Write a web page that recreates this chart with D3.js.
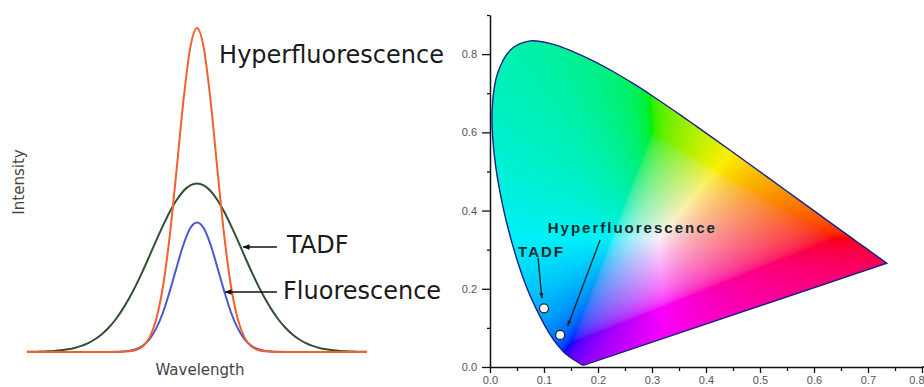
<!DOCTYPE html>
<html><head><meta charset="utf-8">
<script src="https://cdn.jsdelivr.net/npm/d3@7"></script>
<style>html,body{margin:0;padding:0;background:#fff;} svg{display:block;}</style>
</head><body>
<svg id="chart" width="924" height="387"></svg>
<script>
// ---------- Left panel: emission spectra (arbitrary units) ----------
const wavelength = [0,2,4,6,8,10,12,14,16,18,20,22,24,26,28,30,32,34,36,38,40,42,44,46,48,50,52,54,56,58,60,62,64,66,68,70,72,74,76,78,80,82,84,86,88,90,92,94,96,98,100];
const tadf = [0.0004,0.0007,0.0012,0.002,0.0033,0.0053,0.0083,0.0126,0.0189,0.0275,0.0393,0.0548,0.0747,0.0996,0.130,0.165,0.205,0.249,0.296,0.344,0.390,0.433,0.469,0.497,0.514,0.52,0.514,0.497,0.469,0.433,0.390,0.344,0.296,0.249,0.205,0.165,0.130,0.0996,0.0747,0.0548,0.0393,0.0275,0.0189,0.0126,0.0083,0.0053,0.0033,0.002,0.0012,0.0007,0.0004];
const fluorescence = [0,0,0,0,0,0,0,0,0,0,0,0,0,0.0004,0.0013,0.0035,0.0086,0.0193,0.0393,0.0728,0.122,0.188,0.261,0.331,0.382,0.40,0.382,0.331,0.261,0.188,0.122,0.0728,0.0393,0.0193,0.0086,0.0035,0.0013,0.0004,0,0,0,0,0,0,0,0,0,0,0,0,0];
const hyperfluorescence = [0,0,0,0,0,0,0,0,0,0,0,0,0,0,0.0005,0.002,0.006,0.017,0.044,0.101,0.203,0.360,0.563,0.775,0.938,1.0,0.938,0.775,0.563,0.360,0.203,0.101,0.044,0.017,0.006,0.002,0.0005,0,0,0,0,0,0,0,0,0,0,0,0,0,0];
const spectraLabels = ["Hyperfluorescence","TADF","Fluorescence"];
const spectraAxisLabels = ["Wavelength","Intensity"];

// ---------- Right panel: CIE 1931 chromaticity ----------
const locusX = [0.1741,0.1740,0.1738,0.1736,0.1733,0.1730,0.1726,0.1721,0.1714,0.1703,0.1689,0.1669,0.1644,0.1611,0.1566,0.1510,0.1440,0.1355,0.1241,0.1096,0.0913,0.0687,0.0454,0.0235,0.0082,0.0039,0.0139,0.0389,0.0743,0.1142,0.1547,0.1929,0.2296,0.2658,0.3016,0.3373,0.3731,0.4087,0.4441,0.4788,0.5125,0.5448,0.5752,0.6029,0.6270,0.6482,0.6658,0.6801,0.6915,0.7006,0.7079,0.7140,0.7190,0.7230,0.7260,0.7283,0.7300,0.7311,0.7320,0.7334,0.7344,0.7347];
const locusY = [0.0050,0.0050,0.0049,0.0049,0.0048,0.0048,0.0048,0.0048,0.0051,0.0058,0.0069,0.0086,0.0109,0.0138,0.0177,0.0227,0.0297,0.0399,0.0578,0.0868,0.1327,0.2007,0.2950,0.4127,0.5384,0.6548,0.7502,0.8120,0.8338,0.8262,0.8059,0.7816,0.7543,0.7243,0.6923,0.6589,0.6245,0.5896,0.5547,0.5202,0.4866,0.4544,0.4242,0.3965,0.3725,0.3514,0.3340,0.3197,0.3083,0.2993,0.2920,0.2859,0.2809,0.2770,0.2740,0.2717,0.2700,0.2689,0.2680,0.2666,0.2656,0.2653];
const emitterNames = ["TADF","Hyperfluorescence"];
const emitterX = [0.10, 0.13];
const emitterY = [0.15, 0.082];
const cieXTicks = [0,0.1,0.2,0.3,0.4,0.5,0.6,0.7,0.8];
const cieXMinor = [0.05,0.15,0.25,0.35,0.45,0.55,0.65,0.75];
const cieYTicks = [0,0.2,0.4,0.6,0.8];
const cieYMinor = [0.1,0.3,0.5,0.7,0.9];

const svg = d3.select("#chart");
const defs = svg.append("defs");

// ================= LEFT PANEL =================
const lx = d3.scaleLinear().domain([0,100]).range([27,367]);
const ly = d3.scaleLinear().domain([0,1]).range([352,28]);
const line = d3.line().x((d,i)=>lx(wavelength[i])).y(d=>ly(d)).curve(d3.curveMonotoneX);
const left = svg.append("g");
[[tadf,"#2f5232"],[fluorescence,"#4a56d2"],[hyperfluorescence,"#f2602b"]].forEach(([vals,col])=>{
  left.append("path").attr("d",line(vals)).attr("fill","none").attr("stroke",col).attr("stroke-width",2);
});

defs.append("marker").attr("id","arrL").attr("viewBox","0 0 10 10").attr("refX",9).attr("refY",5)
  .attr("markerWidth",7).attr("markerHeight",7).attr("markerUnits","userSpaceOnUse").attr("orient","auto")
  .append("path").attr("d","M0,1 L10,5 L0,9 Z").attr("fill","#111");

left.append("line").attr("x1",lx(73.5)).attr("x2",lx(63.6)).attr("y1",ly(0.324)).attr("y2",ly(0.324))
  .attr("stroke","#111").attr("stroke-width",1.6).attr("marker-end","url(#arrL)");
left.append("line").attr("x1",lx(73.5)).attr("x2",lx(58.3)).attr("y1",ly(0.185)).attr("y2",ly(0.185))
  .attr("stroke","#111").attr("stroke-width",1.6).attr("marker-end","url(#arrL)");

const bigFont = "'DejaVu Sans', sans-serif";
left.append("text").attr("x",lx(56.5)).attr("y",ly(0.892)).text(spectraLabels[0])
  .attr("font-family",bigFont).attr("font-size",24).attr("fill","#1a1a1a");
left.append("text").attr("x",lx(76.5)).attr("y",ly(0.306)).text(spectraLabels[1])
  .attr("font-family",bigFont).attr("font-size",24).attr("fill","#1a1a1a");
left.append("text").attr("x",lx(75.3)).attr("y",ly(0.164)).text(spectraLabels[2])
  .attr("font-family",bigFont).attr("font-size",24).attr("fill","#1a1a1a");
left.append("text").attr("x",200).attr("y",375).attr("text-anchor","middle").text(spectraAxisLabels[0])
  .attr("font-family",bigFont).attr("font-size",15).attr("fill","#444");
left.append("text").attr("transform","translate(24,182) rotate(-90)").attr("text-anchor","middle").text(spectraAxisLabels[1])
  .attr("font-family",bigFont).attr("font-size",15).attr("fill","#444");

// ================= RIGHT PANEL =================
const xs = d3.scaleLinear().domain([0,0.8]).range([490,922]);
const ys = d3.scaleLinear().domain([0,0.9]).range([367,15]);
const right = svg.append("g");

// colour field
const px0 = xs(0), px1 = xs(0.8), py0 = ys(0.9), py1 = ys(0);
const W = Math.round(px1-px0), H = Math.round(py1-py0);
const cv = document.createElement("canvas"); cv.width = W; cv.height = H;
const ctx = cv.getContext("2d");
const img = ctx.createImageData(W,H);
function gam(c){ return c<=0.0031308 ? 12.92*c : 1.055*Math.pow(c,1/2.4)-0.055; }
for(let j=0;j<H;j++){
  for(let i=0;i<W;i++){
    const cx = xs.invert(px0+i+0.5);
    let cy = ys.invert(py0+j+0.5); if(cy<0.002) cy=0.002;
    const X = cx/cy, Y = 1, Z = (1-cx-cy)/cy;
    let r = 3.2406*X-1.5372*Y-0.4986*Z;
    let g = -0.9689*X+1.8758*Y+0.0415*Z;
    let b = 0.0557*X-0.2040*Y+1.0570*Z;
    const m = Math.min(r,g,b); if(m<0){ r-=m; g-=m; b-=m; }
    const mx = Math.max(r,g,b,1e-6); r/=mx; g/=mx; b/=mx;
    const k = 4*(j*W+i);
    img.data[k] = Math.round(250*gam(r));
    img.data[k+1] = Math.round(240*gam(g));
    img.data[k+2] = Math.round(250*gam(b));
    img.data[k+3] = 255;
  }
}
ctx.putImageData(img,0,0);

const locusPts = locusX.map((x,i)=>[x,locusY[i]]);
const locusPath = d3.line().x(d=>xs(d[0])).y(d=>ys(d[1])).curve(d3.curveCatmullRom.alpha(0.5))(locusPts) + "Z";
defs.append("clipPath").attr("id","locusClip").append("path").attr("d",locusPath);
right.append("image").attr("href",cv.toDataURL()).attr("x",px0).attr("y",py0).attr("width",W).attr("height",H)
  .attr("preserveAspectRatio","none").attr("clip-path","url(#locusClip)");
right.append("path").attr("d",locusPath).attr("fill","none").attr("stroke","#1b1f86").attr("stroke-width",1.4);

// axes
const tickFont = "'Liberation Sans', Arial, sans-serif";
const xAx = right.append("g").attr("transform",`translate(0,${ys(0)})`)
  .call(d3.axisBottom(xs).tickValues(cieXTicks).tickSize(6).tickPadding(3).tickSizeOuter(0).tickFormat(d3.format(".1f")));
xAx.selectAll(".tick text").filter(d=>d===0.8).attr("text-anchor","end").attr("dx","2");
right.append("g").attr("transform",`translate(0,${ys(0)})`)
  .call(d3.axisBottom(xs).tickValues(cieXMinor).tickSize(4).tickSizeOuter(0).tickFormat(""))
  .select(".domain").remove();
right.append("g").attr("transform",`translate(${xs(0)},0)`)
  .call(d3.axisLeft(ys).tickValues(cieYTicks).tickSize(8).tickPadding(5).tickSizeOuter(0).tickFormat(d3.format(".1f")));
right.append("g").attr("transform",`translate(${xs(0)},0)`)
  .call(d3.axisLeft(ys).tickValues(cieYMinor).tickSize(3).tickSizeOuter(0).tickFormat(""))
  .select(".domain").remove();
right.selectAll(".domain").attr("stroke","#111").attr("stroke-width",1.5);
right.selectAll(".tick line").attr("stroke","#111").attr("stroke-width",1.3);
right.selectAll(".tick text").attr("font-family",tickFont).attr("font-size",11).attr("fill","#555");
right.append("line").attr("x1",xs(0.8)).attr("x2",924).attr("y1",ys(0)).attr("y2",ys(0)).attr("stroke","#111").attr("stroke-width",1.5);

// annotations
defs.append("marker").attr("id","arrR").attr("viewBox","0 0 10 10").attr("refX",9).attr("refY",5)
  .attr("markerWidth",6).attr("markerHeight",6).attr("markerUnits","userSpaceOnUse").attr("orient","auto")
  .append("path").attr("d","M0,1.5 L10,5 L0,8.5 Z").attr("fill","#122");
right.append("line").attr("x1",xs(0.089)).attr("y1",ys(0.279)).attr("x2",xs(0.096)).attr("y2",ys(0.176))
  .attr("stroke","#122").attr("stroke-width",1.3).attr("marker-end","url(#arrR)");
right.append("line").attr("x1",xs(0.204)).attr("y1",ys(0.325)).attr("x2",xs(0.144)).attr("y2",ys(0.105))
  .attr("stroke","#122").attr("stroke-width",1.3).attr("marker-end","url(#arrR)");

right.selectAll("circle.em").data(emitterX).join("circle").attr("class","em")
  .attr("cx",d=>xs(d)).attr("cy",(d,i)=>ys(emitterY[i])).attr("r",4.5)
  .attr("fill","#fff").attr("stroke","#222").attr("stroke-width",1.2);

right.append("text").attr("x",xs(0.052)).attr("y",ys(0.281)).text(emitterNames[0])
  .attr("font-family",tickFont).attr("font-weight","bold").attr("font-size",15).attr("letter-spacing",2).attr("fill","#132c2c");
right.append("text").attr("x",xs(0.107)).attr("y",ys(0.343)).text(emitterNames[1])
  .attr("font-family",tickFont).attr("font-weight","bold").attr("font-size",15).attr("letter-spacing",2).attr("fill","#132c2c");
</script>
</body></html>
